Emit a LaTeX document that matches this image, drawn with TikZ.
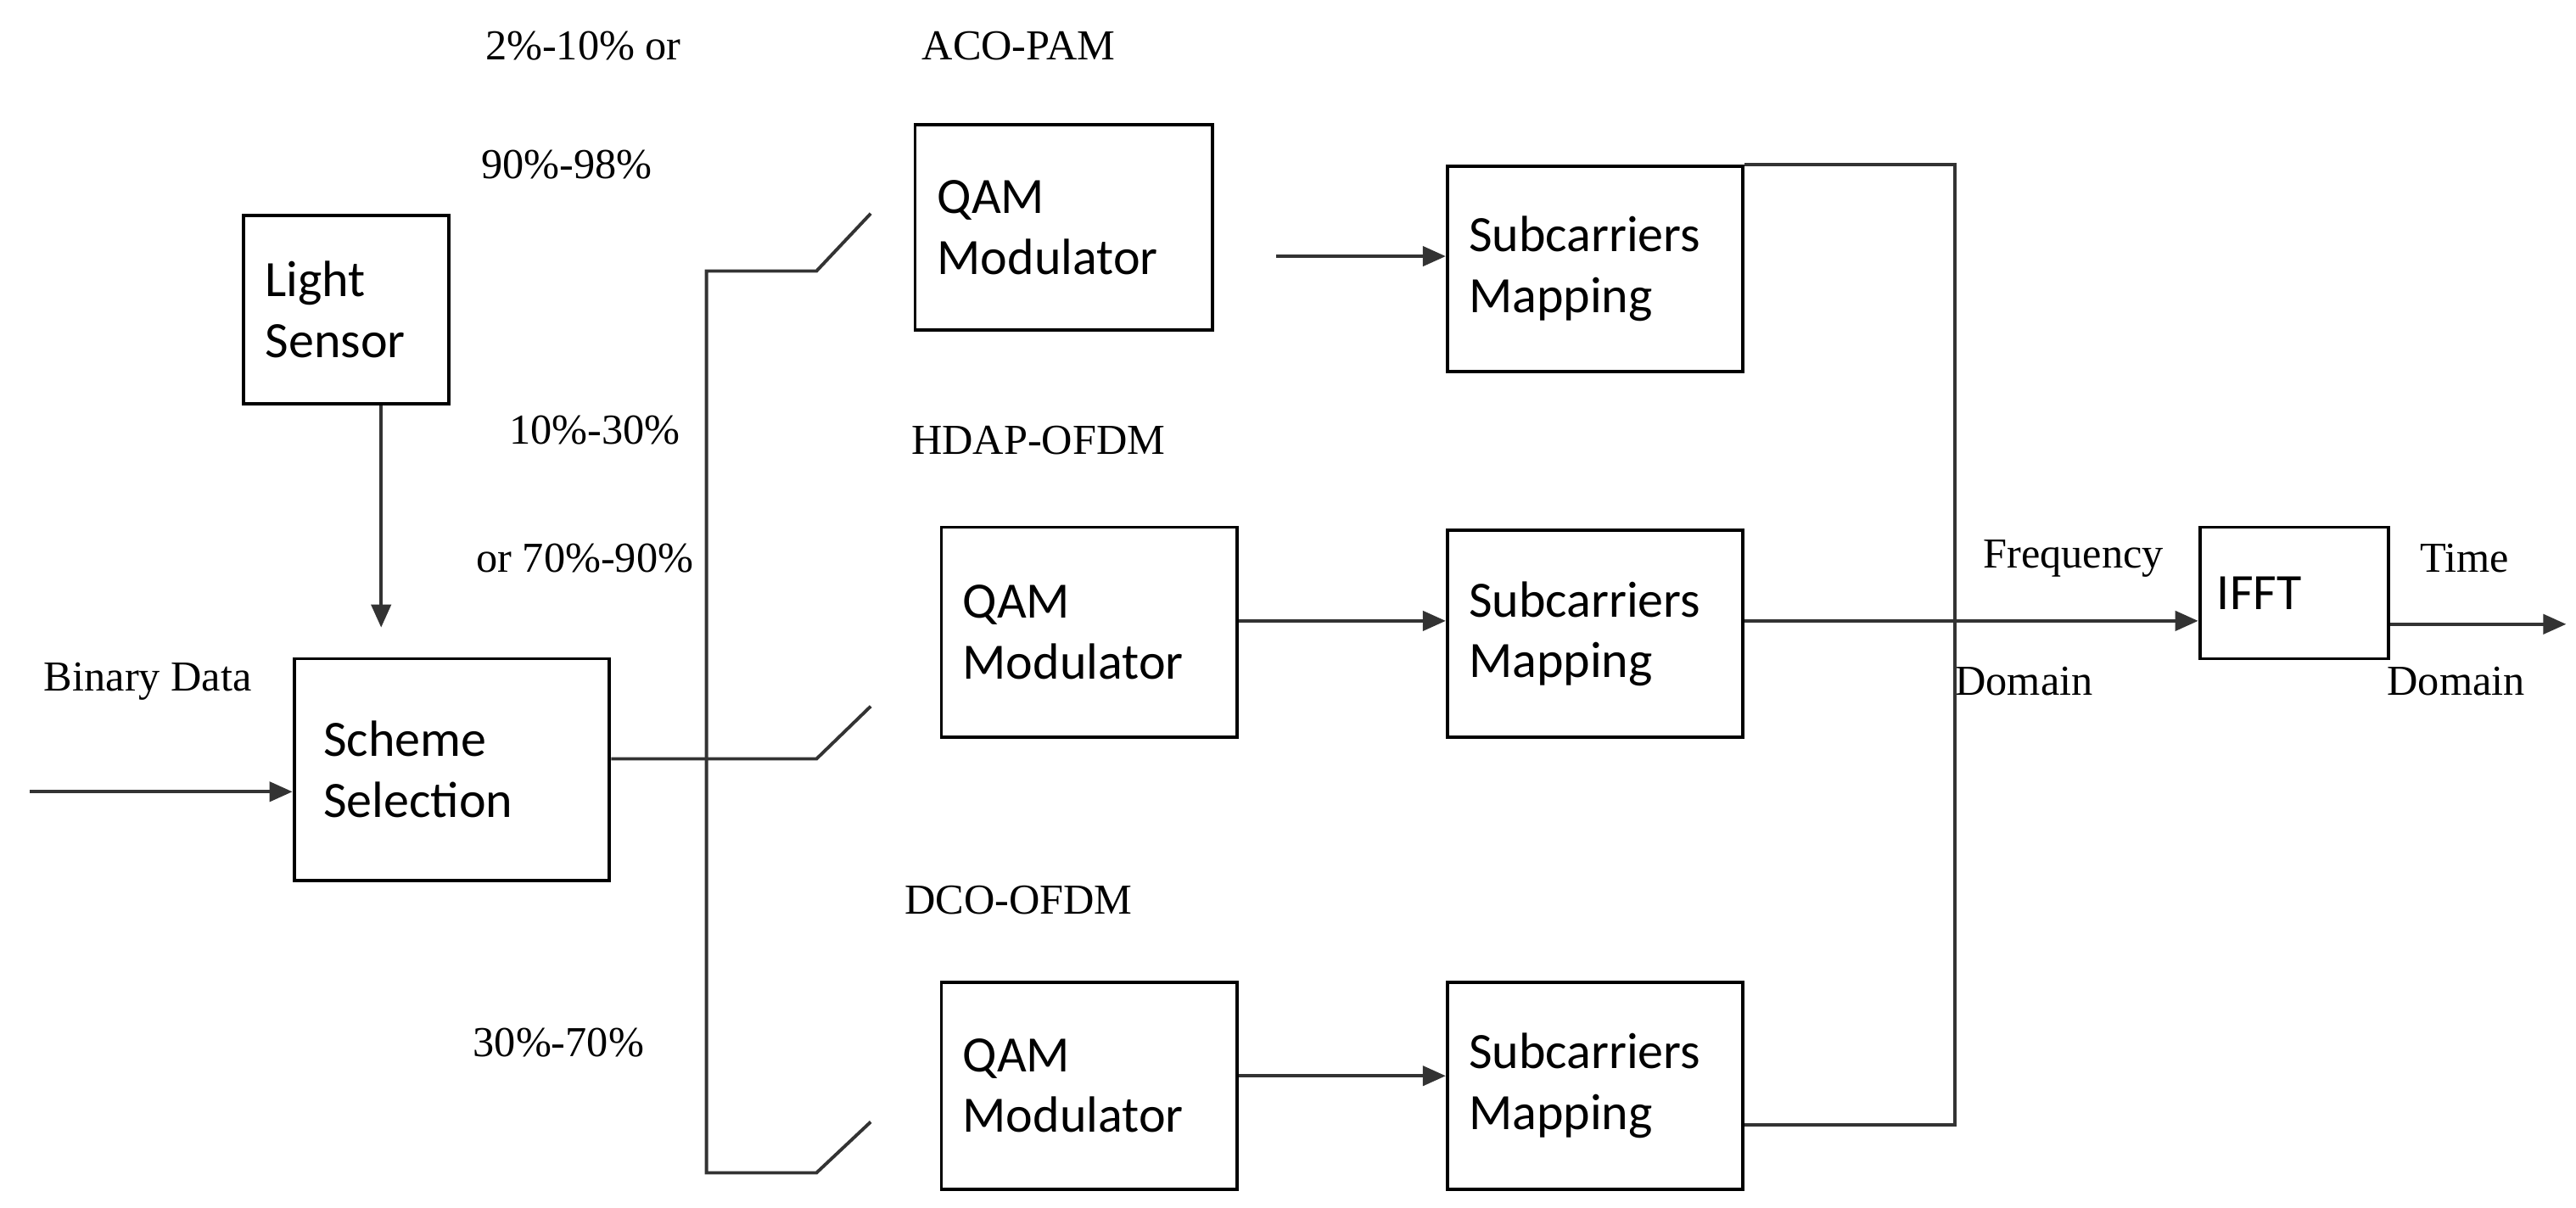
\documentclass[tikz,border=0pt]{standalone}
\usepackage{fontspec}
\setmainfont{Liberation Serif}
\newfontfamily\boxfont{Carlito}
\usetikzlibrary{arrows.meta}
\begin{document}
\begin{tikzpicture}[x=0.5pt,y=-0.5pt,
  box/.style={draw,line width=1pt,align=left,font=\boxfont\fontsize{15.5}{18.5}\selectfont,inner sep=0pt,anchor=north west},
  lbl/.style={font=\fontsize{13}{15}\selectfont,inner sep=0pt},
  ln/.style={draw=black!80,line width=1pt},
  arr/.style={ln,-{Triangle[length=7pt,width=6pt]}}]
\useasboundingbox (0,0) rectangle (1568,735);
\node[box,minimum width=62.5pt,minimum height=57.5pt,text width=49pt] (ls) at (147,130) {Light\\Sensor};
\node[box,minimum width=96pt,minimum height=67.5pt,text width=78pt] (ss) at (178,400) {Scheme\\Selection};
\node[box,minimum width=90.5pt,minimum height=62.5pt,text width=77pt] (q1) at (556,75) {QAM\\Modulator};
\node[box,minimum width=90pt,minimum height=64pt,text width=77pt] (q2) at (572,320) {QAM\\Modulator};
\node[box,minimum width=90pt,minimum height=63pt,text width=77pt] (q3) at (572,597) {QAM\\Modulator};
\node[box,minimum width=90pt,minimum height=62.5pt,text width=77pt] (s1) at (880,100) {Subcarriers\\Mapping};
\node[box,minimum width=90pt,minimum height=63pt,text width=77pt] (s2) at (880,322) {Subcarriers\\Mapping};
\node[box,minimum width=90pt,minimum height=63pt,text width=77pt] (s3) at (880,597) {Subcarriers\\Mapping};
\node[box,minimum width=57.5pt,minimum height=40pt,text width=47pt] (ifft) at (1338,320) {IFFT};
% labels
\node[lbl] at (355,28) {2\%-10\% or};
\node[lbl] at (345,100) {90\%-98\%};
\node[lbl] at (620,28) {ACO-PAM};
\node[lbl] at (362,262) {10\%-30\%};
\node[lbl] at (356,340) {or 70\%-90\%};
\node[lbl] at (632,268) {HDAP-OFDM};
\node[lbl] at (620,548) {DCO-OFDM};
\node[lbl] at (340,635) {30\%-70\%};
\node[lbl] at (90,415) {Binary Data};
\node[lbl] at (1262,340) {Frequency};
\node[lbl] at (1232,415) {Domain};
\node[lbl] at (1500,340) {Time};
\node[lbl] at (1495,415) {Domain};
% connectors
\coordinate (bin) at (18,482);
\draw[arr] (bin) -- (ss.west |- bin);
\coordinate (lsd) at (232,382);
\draw[arr] (ls.south -| lsd) -- (lsd);
\coordinate (sw2) at (530,430);
\coordinate (sw1) at (530,130);
\coordinate (sw3) at (530,683);
\draw[ln] (ss.east |- 0,462) -- (497,462) -- (sw2);
\draw[ln] (sw1) -- (497,165) -- (430,165) -- (430,714) -- (497,714) -- (sw3);
\draw[arr] (777,156) -- (s1.west |- 0,156);
\draw[arr] (q2.east |- 0,378) -- (s2.west |- 0,378);
\draw[arr] (q3.east |- 0,655) -- (s3.west |- 0,655);
\draw[ln] (s1.east |- 0,100) -- (1190,100) -- (1190,685) -- (s3.east |- 0,685);
\draw[arr] (s2.east |- 0,378) -- (ifft.west |- 0,378);
\coordinate (out) at (1562,380);
\draw[arr] (ifft.east |- out) -- (out);
\end{tikzpicture}
\end{document}
